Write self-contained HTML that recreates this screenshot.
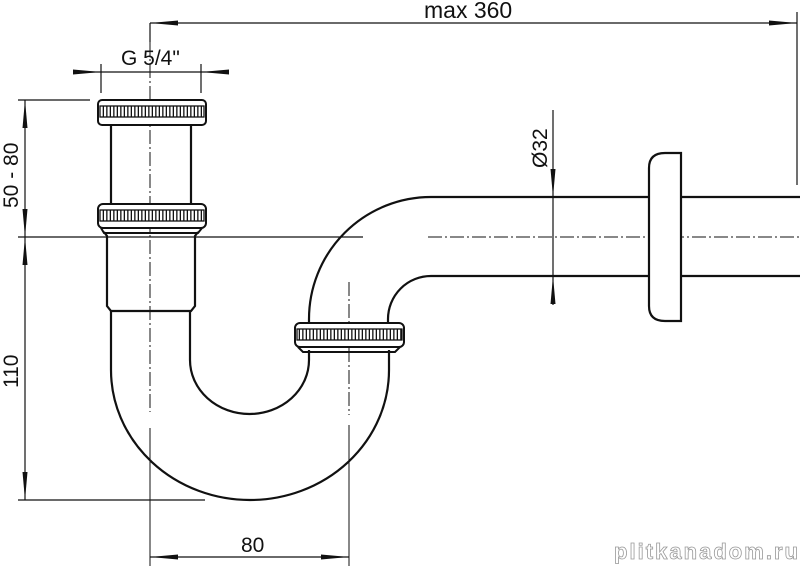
<!DOCTYPE html>
<html><head><style>html,body{margin:0;padding:0;background:#fff}svg{display:block}</style></head>
<body>
<svg width="800" height="566" viewBox="0 0 800 566" xmlns="http://www.w3.org/2000/svg" font-family="Liberation Sans, sans-serif">
<defs>
<pattern id="kn" x="0" y="0" width="3.5" height="10" patternUnits="userSpaceOnUse">
<rect width="3.5" height="10" fill="#fff"/><rect x="1.2" width="1.3" height="10" fill="#111"/>
</pattern>
<marker id="b" viewBox="0 0 28 8" refX="28" refY="4" markerWidth="28" markerHeight="8" orient="auto-start-reverse" markerUnits="userSpaceOnUse"><path d="M0,1.5 L28,4 L0,6.5 z" fill="#111"/></marker>
</defs>
<g stroke="#111" fill="none" stroke-width="1.2">
<line x1="150" y1="23" x2="797" y2="23" marker-start="url(#b)" marker-end="url(#b)"/>
<line x1="150" y1="23" x2="150" y2="42"/>
<line x1="797" y1="12" x2="797" y2="185"/>
<line x1="74" y1="72" x2="101" y2="72" marker-end="url(#b)"/>
<line x1="228" y1="72" x2="201" y2="72" marker-end="url(#b)"/>
<line x1="101" y1="72" x2="201" y2="72"/>
<line x1="101" y1="64" x2="101" y2="93"/>
<line x1="201" y1="64" x2="201" y2="93"/>
<line x1="18" y1="100" x2="90" y2="100"/>
<line x1="18" y1="237" x2="363" y2="237"/>
<line x1="18" y1="500" x2="205" y2="500"/>
<line x1="25" y1="100" x2="25" y2="237" marker-start="url(#b)" marker-end="url(#b)"/>
<line x1="25" y1="237" x2="25" y2="500" marker-start="url(#b)" marker-end="url(#b)"/>
<line x1="150" y1="557" x2="349" y2="557" marker-start="url(#b)" marker-end="url(#b)"/>
<line x1="553" y1="110" x2="553" y2="197" marker-end="url(#b)"/>
<line x1="553" y1="305" x2="553" y2="276" marker-end="url(#b)"/>
<line x1="553" y1="197" x2="553" y2="276"/>
<line x1="150" y1="42" x2="150" y2="412" stroke-dasharray="14,3,2,3" stroke-width="1"/>
<line x1="150" y1="428" x2="150" y2="566" stroke-width="1"/>
<line x1="349" y1="282" x2="349" y2="415" stroke-dasharray="14,3,2,3" stroke-width="1"/>
<line x1="349" y1="425" x2="349" y2="566" stroke-width="1"/>
<line x1="428" y1="237" x2="800" y2="237" stroke-dasharray="14,3,2,3" stroke-width="1"/>
</g>
<g stroke="#111" fill="none" stroke-width="2.2">
<line x1="111" y1="125" x2="111" y2="205"/>
<line x1="191" y1="125" x2="191" y2="205"/>
<path d="M104,232 L107,236 L107,306 L111,311 L191,311 L195,306 L195,236 L198,232"/>
<path d="M111,311 L111,370 A139,130 0 0 0 389,370 L389,350"/>
<path d="M190,311 L190,360 A59.5,54 0 0 0 309,360 L309,350"/>
<path d="M309,322 L309,319 A122,122 0 0 1 431,197 L800,197"/>
<path d="M388,322 L388,319 A43,43 0 0 1 431,276 L800,276"/>
<path d="M649,168 Q649,153 665,153 L681,153 L681,321 L665,321 Q649,321 649,306 Z" fill="#fff"/>
</g>
<g stroke="#111" stroke-width="2">
<rect x="98" y="100" width="108" height="25" rx="4" fill="#fff"/>
<rect x="100" y="106" width="104" height="11" fill="url(#kn)" stroke-width="1.3"/>
<rect x="98" y="204" width="108" height="24" rx="5" fill="#fff"/>
<rect x="100" y="210" width="104" height="11" fill="url(#kn)" stroke-width="1.3"/>
<path d="M101,228 L104,233 L198,233 L202,228" fill="none"/>
<rect x="295" y="323" width="109" height="24" rx="5" fill="#fff"/>
<rect x="297" y="329" width="105" height="11" fill="url(#kn)" stroke-width="1.3"/>
<path d="M298,347 L303,352 L395,352 L400,347" fill="none"/>
<line x1="309" y1="352" x2="309" y2="360"/><line x1="389" y1="352" x2="389" y2="360"/>
</g>
<g fill="#111" font-size="21">
<text x="424" y="18" font-size="23">max 360</text>
<text x="121" y="65">G 5/4"</text>
<text x="241" y="552">80</text>
<text transform="translate(18,208) rotate(-90)">50 - 80</text>
<text transform="translate(18,388) rotate(-90)">110</text>
<text transform="translate(547,168) rotate(-90)">Ø32</text>
</g>
<text x="614" y="559" font-size="22" font-weight="bold" fill="#fff" stroke="#999" stroke-width="0.8" textLength="184">plitkanadom.ru</text>
</svg>
</body></html>
